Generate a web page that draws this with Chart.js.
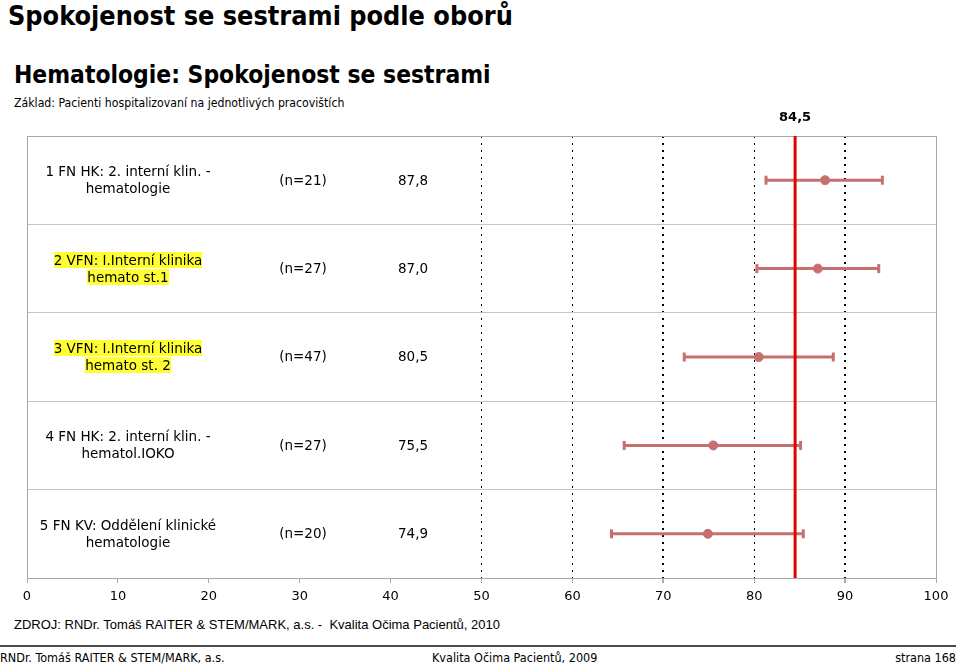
<!DOCTYPE html>
<html lang="cs">
<head>
<meta charset="utf-8">
<title>Hematologie: Spokojenost se sestrami</title>
<script src="https://cdn.jsdelivr.net/npm/chart.js@4"></script>
<style>
    html, body { margin: 0; padding: 0; background: #fff; }
    body { width: 960px; height: 665px; position: relative; overflow: hidden; font-family: "DejaVu Sans", Verdana, sans-serif; color: #000; }
    .abs { position: absolute; white-space: nowrap; }
    #pageTitle { left: 8px; top: 1px; font: bold 26.8px/30px "DejaVu Sans Condensed", "DejaVu Sans", sans-serif; }
    #chartTitle { left: 14px; top: 60px; font: bold 24.4px/30px "DejaVu Sans Condensed", "DejaVu Sans", sans-serif; }
    #base { left: 14px; top: 95px; font: 12.2px/16px "DejaVu Sans Condensed", "DejaVu Sans", sans-serif; }
    #chartBox { position: absolute; left: 0; top: 106px; width: 960px; height: 500px; }
    .row { position: absolute; left: 0; display: flex; align-items: center; font-size: 13.5px; line-height: 17px; }
    .row .lbl { position: absolute; left: 30px; width: 196px; text-align: center; white-space: normal; }
    .row .n { position: absolute; left: 263px; width: 80px; text-align: center; }
    .row .val { position: absolute; left: 383px; width: 60px; text-align: center; }
    .hl span { background: #ffff33; }
    #source { left: 14px; top: 617px; font: 13px/16px "Liberation Sans", Arial, sans-serif; }
    #rule { position: absolute; left: 0; top: 645px; width: 956px; height: 0; border-top: 2px solid #4a4a4a; }
    .foot { top: 650px; font: 12.5px/16px "DejaVu Sans Condensed", "DejaVu Sans", sans-serif; }
</style>
</head>
<body>
<div id="pageTitle" class="abs">Spokojenost se sestrami podle oborů</div>
<div id="chartTitle" class="abs">Hematologie: Spokojenost se sestrami</div>
<div id="base" class="abs">Základ: Pacienti hospitalizovaní na jednotlivých pracovištích</div>

<div id="chartBox">
    <canvas id="ciChart" width="960" height="500"></canvas>
</div>

<div id="source" class="abs">ZDROJ: RNDr. Tomáš RAITER &amp; STEM/MARK, a.s. -&nbsp; Kvalita Očima Pacientů, 2010</div>
<div id="rule"></div>
<div class="abs foot" style="left:0">RNDr. Tomáš RAITER &amp; STEM/MARK, a.s.</div>
<div class="abs foot" style="left:432px">Kvalita Očima Pacientů, 2009</div>
<div class="abs foot" style="right:4px">strana 168</div>

<script>
// ------------------ DATA ------------------
const departments = [
    ["1 FN HK: 2. interní klin. -", "hematologie"],
    ["2 VFN: I.Interní klinika", "hemato st.1"],
    ["3 VFN: I.Interní klinika", "hemato st. 2"],
    ["4 FN HK: 2. interní klin. -", "hematol.IOKO"],
    ["5 FN KV: Oddělení klinické", "hematologie"]
];
const highlighted = [false, true, true, false, false];
const respondents = [21, 27, 47, 27, 20];
const means = [87.8, 87.0, 80.5, 75.5, 74.9];
const lowerBounds = [81.3, 80.3, 72.3, 65.7, 64.3];
const upperBounds = [94.1, 93.7, 88.7, 85.1, 85.4];
const overallMean = 84.5;
const xTicks = [0, 10, 20, 30, 40, 50, 60, 70, 80, 90, 100];

const barColor = '#c76f6f';
const fmt = (v) => v.toFixed(1).replace('.', ',');

// ------------------ DATASETS ------------------
// one whisker dataset per row, caps drawn as rotated line points
const whiskers = departments.map((d, i) => ({
    type: 'line',
    data: [{ x: lowerBounds[i], y: i + 0.5 }, { x: upperBounds[i], y: i + 0.5 }],
    borderColor: barColor,
    borderWidth: 3,
    pointStyle: 'line',
    rotation: 90,
    pointRadius: 4.5,
    pointBorderWidth: 3,
    pointBorderColor: barColor,
    order: 3
}));

const meanPoints = {
    type: 'scatter',
    data: means.map((m, i) => ({ x: m, y: i + 0.5 })),
    backgroundColor: barColor,
    borderColor: barColor,
    pointRadius: 4.5,
    order: 2
};

const refLine = {
    type: 'line',
    data: [{ x: overallMean, y: 0 }, { x: overallMean, y: departments.length }],
    borderColor: '#e30000',
    borderWidth: 3,
    pointRadius: 0,
    order: 1
};

// frame around plot area
const framePlugin = {
    id: 'frame',
    beforeDatasetsDraw(chart) {
        const { ctx, chartArea: a } = chart;
        ctx.save();
        ctx.strokeStyle = '#a8a8a8';
        ctx.lineWidth = 1;
        ctx.strokeRect(a.left + 0.5, a.top + 0.5, a.right - a.left, a.bottom - a.top);
        ctx.restore();
    }
};

const chart = new Chart(document.getElementById('ciChart'), {
    type: 'scatter',
    data: { datasets: [refLine, meanPoints, ...whiskers] },
    plugins: [framePlugin],
    options: {
        responsive: false,
        animation: false,
        layout: { padding: { left: 0, right: 24, top: 0, bottom: 0 } },
        plugins: { legend: { display: false }, tooltip: { enabled: false } },
        scales: {
            x: {
                type: 'linear',
                position: 'bottom',
                min: 0,
                max: 100,
                afterBuildTicks: (s) => { s.ticks = xTicks.map(v => ({ value: v })); },
                afterFit: (s) => { s.height = 28; },
                ticks: { color: '#000', font: { family: 'DejaVu Sans', size: 13 }, padding: 6, maxRotation: 0 },
                grid: {
                    color: (c) => (c.tick && c.tick.value >= 50 && c.tick.value < 100 ? '#000' : 'rgba(0,0,0,0)'),
                    lineWidth: (c) => (c.tick && (c.tick.value === 70 || c.tick.value === 90) ? 2 : 1),
                    tickColor: '#a8a8a8',
                    tickLength: 5
                },
                border: { display: false, dash: [2, 5] }
            },
            x2: {
                type: 'linear',
                position: 'top',
                min: 0,
                max: 100,
                afterBuildTicks: (s) => { s.ticks = [{ value: overallMean }]; },
                afterFit: (s) => { s.height = 30; },
                ticks: {
                    color: '#000',
                    font: { family: 'DejaVu Sans', size: 13, weight: 'bold' },
                    padding: 3,
                    autoSkip: false,
                    callback: (v) => fmt(v)
                },
                grid: { display: false },
                border: { display: false }
            },
            y: {
                type: 'linear',
                min: 0,
                max: departments.length,
                reverse: true,
                afterFit: (s) => { s.width = 27; },
                ticks: { display: false, stepSize: 1 },
                grid: { color: '#c4c4c4', drawTicks: false },
                border: { display: false }
            }
        }
    }
});

// ------------------ TABLE TEXT IN PLOT ------------------
const box = document.getElementById('chartBox');
const yScale = chart.scales.y;
departments.forEach((lines, i) => {
    const top = yScale.getPixelForValue(i);
    const bottom = yScale.getPixelForValue(i + 1);
    const row = document.createElement('div');
    row.className = 'row';
    row.style.top = top + 'px';
    row.style.height = (bottom - top) + 'px';
    row.style.width = '460px';
    const lbl = document.createElement('div');
    lbl.className = 'lbl' + (highlighted[i] ? ' hl' : '');
    lbl.innerHTML = lines.map(t => `<span>${t}</span>`).join('<br>');
    const n = document.createElement('div');
    n.className = 'n';
    n.textContent = `(n=${respondents[i]})`;
    const val = document.createElement('div');
    val.className = 'val';
    val.textContent = fmt(means[i]);
    row.append(lbl, n, val);
    box.appendChild(row);
});
</script>
</body>
</html>
